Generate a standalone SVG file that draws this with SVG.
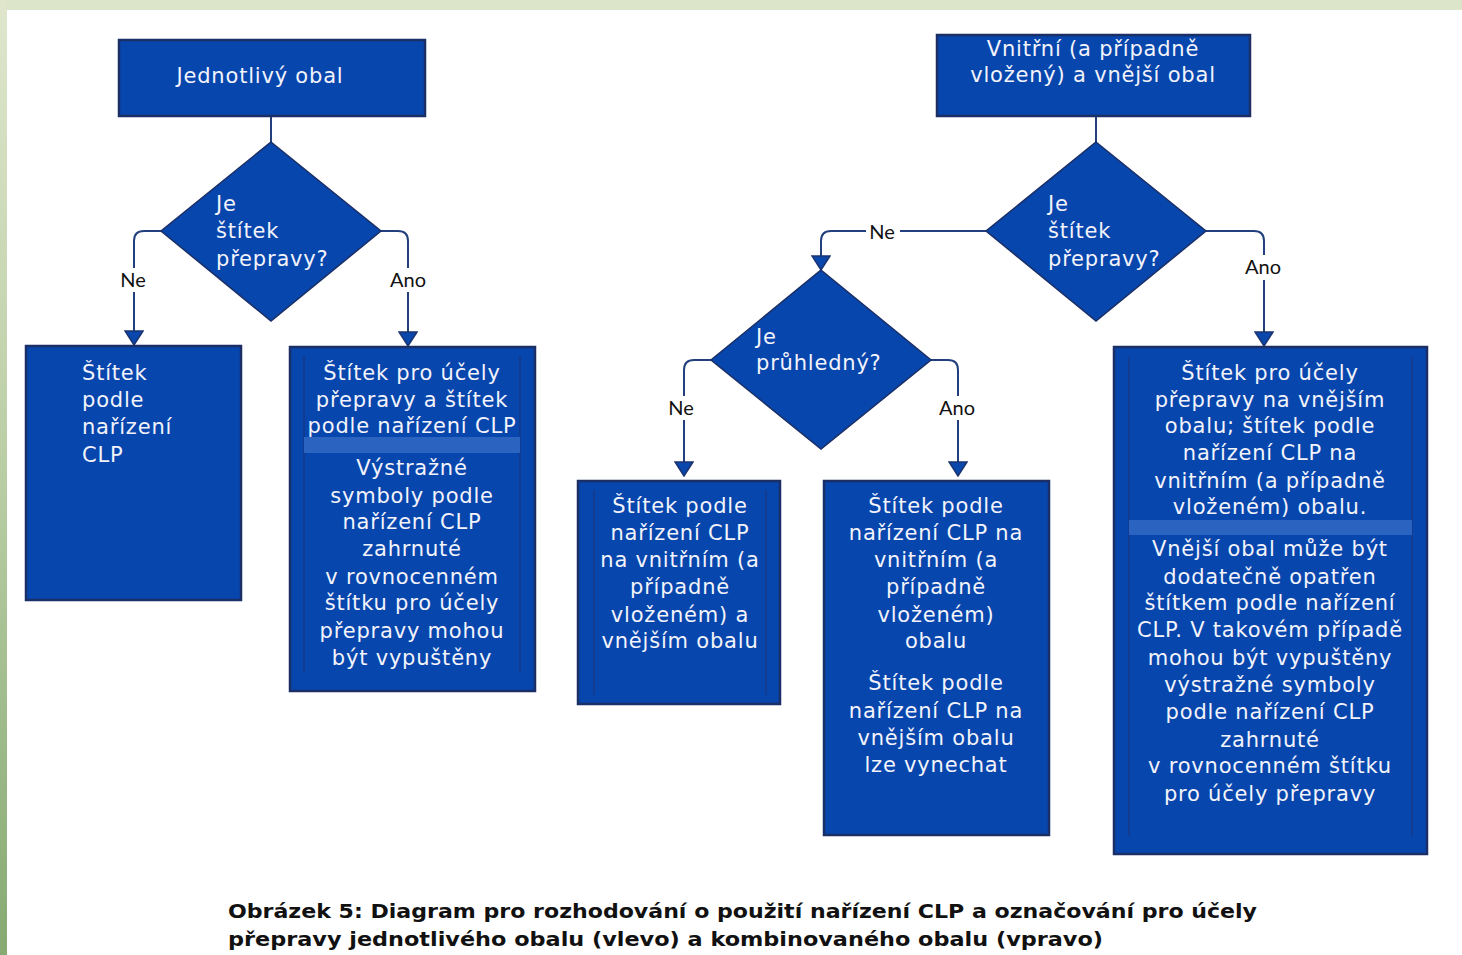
<svg xmlns="http://www.w3.org/2000/svg" width="1462" height="955" viewBox="0 0 1462 955">
<defs>
<linearGradient id="lg" x1="0" y1="0" x2="0" y2="1">
<stop offset="0" stop-color="#dfe6cc"/>
<stop offset="0.5" stop-color="#b9cda4"/>
<stop offset="1" stop-color="#86aa72"/>
</linearGradient>
<marker id="arr" viewBox="0 0 16 20" refX="15" refY="10" markerWidth="16" markerHeight="20" markerUnits="userSpaceOnUse" orient="auto">
<path d="M1,1 L15,10 L1,19 Z" fill="#0a47ad" stroke="#1b3470" stroke-width="1.5"/>
</marker>
</defs>
<style>
.box{fill:#0646ad;stroke:#1b2f66;stroke-width:2.5}
.dia{fill:#0646ad;stroke:#1b2f66;stroke-width:1.5}
.inner{stroke:#173a8a;stroke-width:1.5}
.band{fill:#2b63c0}
.t{font-family:"DejaVu Sans",Verdana,sans-serif;font-size:21px;letter-spacing:0.8px;fill:#f3f3fb}
.c{text-anchor:middle}
.lbl{font-family:Lato,"Open Sans",sans-serif;font-size:20px;fill:#111;text-anchor:middle}
.ln{fill:none;stroke:#22407e;stroke-width:2}
.cap{font-family:"DejaVu Sans",Verdana,sans-serif;font-size:19px;font-weight:bold;fill:#111}
</style>
<rect x="0" y="0" width="1462" height="955" fill="#ffffff"/>
<rect x="0" y="0" width="1462" height="10" fill="#dce4c9"/>
<rect x="0" y="0" width="7" height="955" fill="url(#lg)"/>

<g id="connectors">
<path class="ln" d="M271,116 V142"/>
<path class="ln" d="M161,231 H144 Q134,231 134,241 V268 M134,292 V345" marker-end="url(#arr)"/>
<path class="ln" d="M381,231 H398 Q408,231 408,241 V268 M408,292 V346" marker-end="url(#arr)"/>
<path class="ln" d="M1096,116 V142"/>
<path class="ln" d="M986,231 H900 M866,231 H831 Q821,231 821,241 V270" marker-end="url(#arr)"/>
<path class="ln" d="M1206,231 H1254 Q1264,231 1264,241 V255 M1264,280 V346" marker-end="url(#arr)"/>
<path class="ln" d="M711,360 H694 Q684,360 684,370 V396 M684,420 V476" marker-end="url(#arr)"/>
<path class="ln" d="M931,360 H948 Q958,360 958,370 V396 M958,420 V476" marker-end="url(#arr)"/>
<text class="lbl" x="133" y="287">Ne</text>
<text class="lbl" x="408" y="287">Ano</text>
<text class="lbl" x="882" y="239">Ne</text>
<text class="lbl" x="1263" y="274">Ano</text>
<text class="lbl" x="681" y="415">Ne</text>
<text class="lbl" x="957" y="415">Ano</text>
</g>

<g id="n-single">
<rect class="box" x="119" y="40" width="306" height="76"/>
<text class="t c" x="260" y="83">Jednotlivý obal</text>
</g>

<g id="n-d1">
<polygon class="dia" points="271,142 381,231 271,321 161,231"/>
<text class="t" x="216" y="211">Je</text>
<text class="t" x="216" y="238">štítek</text>
<text class="t" x="216" y="266">přepravy?</text>
</g>

<g id="n-clp">
<rect class="box" x="26" y="346" width="215" height="254"/>
<text class="t" x="82" y="380">Štítek</text>
<text class="t" x="82" y="407">podle</text>
<text class="t" x="82" y="434">nařízení</text>
<text class="t" x="82" y="462">CLP</text>
</g>

<g id="n-both">
<rect class="box" x="290" y="347" width="245" height="344"/>
<line class="inner" x1="304" y1="356" x2="304" y2="672"/>
<line class="inner" x1="520" y1="356" x2="520" y2="672"/>
<rect class="band" x="304" y="437" width="216" height="16"/>
<g class="t c">
<text x="412" y="380">Štítek pro účely</text>
<text x="412" y="407">přepravy a štítek</text>
<text x="412" y="433">podle nařízení CLP</text>
<text x="412" y="475">Výstražné</text>
<text x="412" y="503">symboly podle</text>
<text x="412" y="529">nařízení CLP</text>
<text x="412" y="556">zahrnuté</text>
<text x="412" y="584">v rovnocenném</text>
<text x="412" y="610">štítku pro účely</text>
<text x="412" y="638">přepravy mohou</text>
<text x="412" y="665">být vypuštěny</text>
</g>
</g>

<g id="n-combined">
<rect class="box" x="937" y="35" width="313" height="81"/>
<text class="t c" x="1093" y="56">Vnitřní (a případně</text>
<text class="t c" x="1093" y="82">vložený) a vnější obal</text>
</g>

<g id="n-d2">
<polygon class="dia" points="1096,142 1206,231 1096,321 986,231"/>
<text class="t" x="1048" y="211">Je</text>
<text class="t" x="1048" y="238">štítek</text>
<text class="t" x="1048" y="266">přepravy?</text>
</g>

<g id="n-d3">
<polygon class="dia" points="821,270 931,360 821,449 711,360"/>
<text class="t" x="756" y="344">Je</text>
<text class="t" x="756" y="370">průhledný?</text>
</g>

<g id="n-opaque">
<rect class="box" x="578" y="481" width="202" height="223"/>
<line class="inner" x1="594" y1="490" x2="594" y2="695"/>
<line class="inner" x1="766" y1="490" x2="766" y2="695"/>
<g class="t c">
<text x="680" y="513">Štítek podle</text>
<text x="680" y="540">nařízení CLP</text>
<text x="680" y="567">na vnitřním (a</text>
<text x="680" y="594">případně</text>
<text x="680" y="622">vloženém) a</text>
<text x="680" y="648">vnějším obalu</text>
</g>
</g>

<g id="n-transparent">
<rect class="box" x="824" y="481" width="225" height="354"/>
<g class="t c">
<text x="936" y="513">Štítek podle</text>
<text x="936" y="540">nařízení CLP na</text>
<text x="936" y="567">vnitřním (a</text>
<text x="936" y="594">případně</text>
<text x="936" y="622">vloženém)</text>
<text x="936" y="648">obalu</text>
<text x="936" y="690">Štítek podle</text>
<text x="936" y="718">nařízení CLP na</text>
<text x="936" y="745">vnějším obalu</text>
<text x="936" y="772">lze vynechat</text>
</g>
</g>

<g id="n-transport">
<rect class="box" x="1114" y="347" width="313" height="507"/>
<line class="inner" x1="1129" y1="357" x2="1129" y2="836"/>
<line class="inner" x1="1412" y1="357" x2="1412" y2="836"/>
<rect class="band" x="1129" y="520" width="283" height="15"/>
<g class="t c">
<text x="1270" y="380">Štítek pro účely</text>
<text x="1270" y="407">přepravy na vnějším</text>
<text x="1270" y="433">obalu; štítek podle</text>
<text x="1270" y="460">nařízení CLP na</text>
<text x="1270" y="488">vnitřním (a případně</text>
<text x="1270" y="514">vloženém) obalu.</text>
<text x="1270" y="556">Vnější obal může být</text>
<text x="1270" y="584">dodatečně opatřen</text>
<text x="1270" y="610">štítkem podle nařízení</text>
<text x="1270" y="637">CLP. V takovém případě</text>
<text x="1270" y="665">mohou být vypuštěny</text>
<text x="1270" y="692">výstražné symboly</text>
<text x="1270" y="719">podle nařízení CLP</text>
<text x="1270" y="747">zahrnuté</text>
<text x="1270" y="773">v rovnocenném štítku</text>
<text x="1270" y="801">pro účely přepravy</text>
</g>
</g>

<g id="caption">
<text class="cap" x="228" y="918" textLength="1029" lengthAdjust="spacingAndGlyphs">Obrázek 5: Diagram pro rozhodování o použití nařízení CLP a označování pro účely</text>
<text class="cap" x="228" y="946" textLength="875" lengthAdjust="spacingAndGlyphs">přepravy jednotlivého obalu (vlevo) a kombinovaného obalu (vpravo)</text>
</g>
</svg>
